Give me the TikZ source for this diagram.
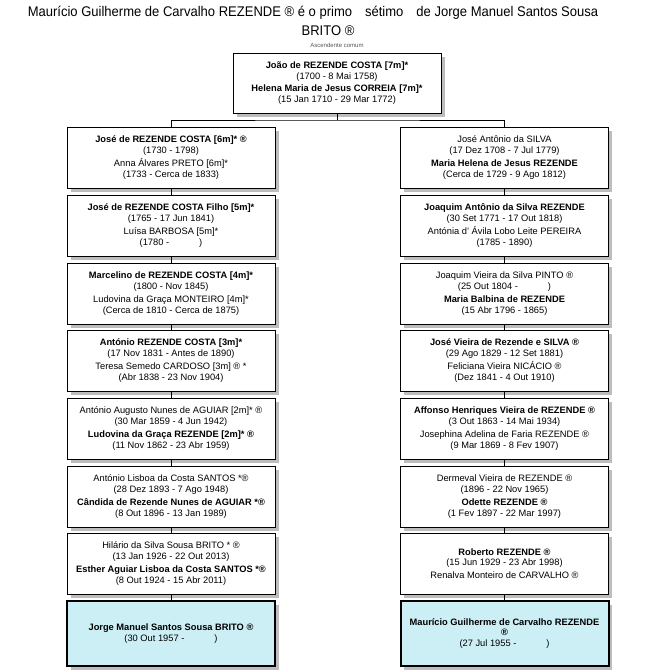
\documentclass[tikz,border=0pt]{standalone}
\usepackage{fontspec}
\setmainfont{Liberation Sans}
\usepackage{xcolor}
\usepackage{graphicx}
\usepackage{tikz}
\usetikzlibrary{shadows}
\definecolor{probandfill}{HTML}{CCEEF5}
\definecolor{shadowgray}{HTML}{BDBDBD}
\definecolor{notegray}{HTML}{555555}
\tikzset{
  personbox/.style={draw=black, line width=0.8pt, fill=white, minimum width=208pt,
    minimum height=61pt, inner sep=1pt, align=center, font=\fontsize{9.3}{10.8}\selectfont,
    drop shadow={shadow xshift=3.5pt, shadow yshift=-3.5pt, fill=shadowgray, opacity=1}},
  probandbox/.style={personbox, fill=probandfill, minimum height=65pt, line width=2pt},
  link/.style={draw=black, line width=0.8pt}
}
\newcommand{\opendate}{\hspace{30pt}}

\begin{document}
\begin{tikzpicture}[x=1pt,y=-1pt]
        \useasboundingbox (0,0) rectangle (667,672);
        % Title
        \node (title1) at (313,13) {\fontsize{14}{17}\selectfont\scalebox{0.93}[1]{Maurício Guilherme de Carvalho REZENDE ® é o primo\hspace{14pt}sétimo\hspace{14pt}de Jorge Manuel Santos Sousa}};
        \node (title2) at (328,31) {\fontsize{14}{17}\selectfont\scalebox{0.93}[1]{BRITO ®}};
        \node (ascend) at (337,45) {\fontsize{6}{7}\selectfont\color{notegray} Ascendente comum};
        % Common ancestors
        \node[personbox, minimum height=60pt] (top) at (337,83) {\textbf{João de REZENDE COSTA [7m]*}\\(1700 - 8 Mai 1758)\\[2pt]\textbf{Helena Maria de Jesus CORREIA [7m]*}\\(15 Jan 1710 - 29 Mar 1772)};
        % Left line
        \node[personbox] (l1) at (171,157.5) {\textbf{José de REZENDE COSTA [6m]* ®}\\(1730 - 1798)\\[2pt]Anna Álvares PRETO [6m]*\\(1733 - Cerca de 1833)};
        \node[personbox] (l2) at (171,225.5) {\textbf{José de REZENDE COSTA Filho [5m]*}\\(1765 - 17 Jun 1841)\\[2pt]Luísa BARBOSA [5m]*\\(1780 -\opendate)};
        \node[personbox] (l3) at (171,293.5) {\textbf{Marcelino de REZENDE COSTA [4m]*}\\(1800 - Nov 1845)\\[2pt]Ludovina da Graça MONTEIRO [4m]*\\(Cerca de 1810 - Cerca de 1875)};
        \node[personbox] (l4) at (171,360.5) {\textbf{António REZENDE COSTA [3m]*}\\(17 Nov 1831 - Antes de 1890)\\[2pt]Teresa Semedo CARDOSO [3m] ® *\\(Abr 1838 - 23 Nov 1904)};
        \node[personbox] (l5) at (171,428.5) {António Augusto Nunes de AGUIAR [2m]* ®\\(30 Mar 1859 - 4 Jun 1942)\\[2pt]\textbf{Ludovina da Graça REZENDE [2m]* ®}\\(11 Nov 1862 - 23 Abr 1959)};
        \node[personbox] (l6) at (171,496.5) {António Lisboa da Costa SANTOS *®\\(28 Dez 1893 - 7 Ago 1948)\\[2pt]\textbf{Cândida de Rezende Nunes de AGUIAR *®}\\(8 Out 1896 - 13 Jan 1989)};
        \node[personbox] (l7) at (171,563.5) {Hilário da Silva Sousa BRITO * ®\\(13 Jan 1926 - 22 Out 2013)\\[2pt]\textbf{Esther Aguiar Lisboa da Costa SANTOS *®}\\(8 Out 1924 - 15 Abr 2011)};
        \node[probandbox] (l8) at (171,633.5) {\textbf{Jorge Manuel Santos Sousa BRITO ®}\\(30 Out 1957 -\opendate)};
        % Right line
        \node[personbox] (r1) at (504.5,157.5) {José Antônio da SILVA\\(17 Dez 1708 - 7 Jul 1779)\\[2pt]\textbf{Maria Helena de Jesus REZENDE}\\(Cerca de 1729 - 9 Ago 1812)};
        \node[personbox] (r2) at (504.5,225.5) {\textbf{Joaquim Antônio da Silva REZENDE}\\(30 Set 1771 - 17 Out 1818)\\[2pt]Antónia d' Ávila Lobo Leite PEREIRA\\(1785 - 1890)};
        \node[personbox] (r3) at (504.5,293.5) {Joaquim Vieira da Silva PINTO ®\\(25 Out 1804 -\opendate)\\[2pt]\textbf{Maria Balbina de REZENDE}\\(15 Abr 1796 - 1865)};
        \node[personbox] (r4) at (504.5,360.5) {\textbf{José Vieira de Rezende e SILVA ®}\\(29 Ago 1829 - 12 Set 1881)\\[2pt]Feliciana Vieira NICÁCIO ®\\(Dez 1841 - 4 Out 1910)};
        \node[personbox] (r5) at (504.5,428.5) {\textbf{Affonso Henriques Vieira de REZENDE ®}\\(3 Out 1863 - 14 Mai 1934)\\[2pt]Josephina Adelina de Faria REZENDE ®\\(9 Mar 1869 - 8 Fev 1907)};
        \node[personbox] (r6) at (504.5,496.5) {Dermeval Vieira de REZENDE ®\\(1896 - 22 Nov 1965)\\[2pt]\textbf{Odette REZENDE ®}\\(1 Fev 1897 - 22 Mar 1997)};
        \node[personbox] (r7) at (504.5,563.5) {\textbf{Roberto REZENDE ®}\\(15 Jun 1929 - 23 Abr 1998)\\[2pt]Renalva Monteiro de CARVALHO ®};
        \node[probandbox] (r8) at (504.5,633.5) {\textbf{Maurício Guilherme de Carvalho REZENDE}\\\textbf{®}\\(27 Jul 1955 -\opendate)};
        % Connectors
        \coordinate (fork) at (337,120);
        \draw[link] (top.south) -- (fork);
        \draw[link] (l1.north) |- (fork) -| (r1.north);
        \draw[link] (l1.south) -- (l2.north);
        \draw[link] (l2.south) -- (l3.north);
        \draw[link] (l3.south) -- (l4.north);
        \draw[link] (l4.south) -- (l5.north);
        \draw[link] (l5.south) -- (l6.north);
        \draw[link] (l6.south) -- (l7.north);
        \draw[link] (l7.south) -- (l8.north);
        \draw[link] (r1.south) -- (r2.north);
        \draw[link] (r2.south) -- (r3.north);
        \draw[link] (r3.south) -- (r4.north);
        \draw[link] (r4.south) -- (r5.north);
        \draw[link] (r5.south) -- (r6.north);
        \draw[link] (r6.south) -- (r7.north);
        \draw[link] (r7.south) -- (r8.north);
    \end{tikzpicture}
\end{document}
